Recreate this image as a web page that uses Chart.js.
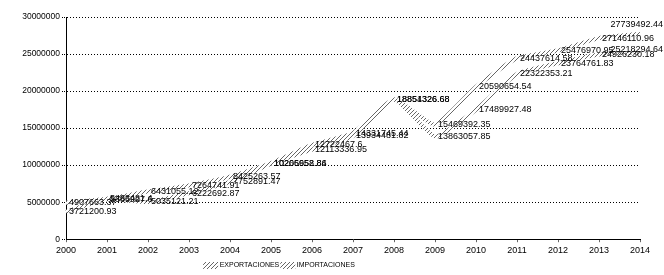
<!DOCTYPE html>
<html>
<head>
<meta charset="utf-8">
<script src="https://cdn.jsdelivr.net/npm/chart.js@4.4.1/dist/chart.umd.min.js"></script>
<style>
  html, body { margin: 0; padding: 0; background: #fff; }
  #wrap { width: 664px; height: 275px; }
</style>
</head>
<body>
<div id="wrap"><canvas id="c" width="664" height="275"></canvas></div>
<script>
const years = ['2000','2001','2002','2003','2004','2005','2006','2007','2008','2009','2010','2011','2012','2013','2014'];
const exportaciones = [4907663.37, 5463481.4, 6431055.12, 7264741.91, 8425263.57, 10266658.84, 12722467.6, 14331745.44,
  18854326.68, 15469392.35, 20590654.54, 24437614.58, 25476970.95, 27146110.96, 27739492.44];
const importaciones = [3721200.93, 5385927.6, 5035121.21, 6222692.87, 7752891.47, 10205952.86, 12113336.95, 13934481.82,
  18851326.68, 13863057.85, 17489927.48, 22322353.21, 23764761.83, 24926230.18, 25218294.64];
const yTicks = [0, 5000000, 10000000, 15000000, 20000000, 25000000, 30000000];

const FONT = '"Liberation Sans", Arial, sans-serif';
const NARROW = '"Liberation Sans Narrow", "Arial Narrow", "Liberation Sans", sans-serif';

// hatched stroke, looks like the printed band
function hatch() {
  const c = document.createElement('canvas');
  c.width = 4; c.height = 4;
  const g = c.getContext('2d');
  g.fillStyle = '#fff'; g.fillRect(0, 0, 4, 4);
  g.strokeStyle = '#666'; g.lineWidth = 1;
  g.beginPath(); g.moveTo(0, 4); g.lineTo(4, 0); g.stroke();
  return g.createPattern(c, 'repeat');
}

const valueLabels = {
  id: 'valueLabels',
  afterDatasetsDraw(chart) {
    const ctx = chart.ctx;
    ctx.save();
    ctx.font = '9px ' + FONT;
    ctx.fillStyle = '#000';
    ctx.textBaseline = 'middle';
    chart.data.datasets.forEach((ds, i) => {
      chart.getDatasetMeta(i).data.forEach((pt, j) => {
        const txt = String(ds.data[j]);
        if (j === ds.data.length - 1) {
          ctx.textAlign = 'right';
          ctx.fillText(txt, chart.width - 1, pt.y - (i === 0 ? 9 : 3));
        } else {
          ctx.textAlign = 'left';
          ctx.fillText(txt, pt.x + 3, pt.y);
        }
      });
    });
    ctx.restore();
  }
};

// legend sits left of centre in the original
const legendShift = {
  id: 'legendShift',
  afterLayout(chart) { chart.legend.left -= 40; chart.legend.right -= 40; }
};

const pat = hatch();
const dots = [1, 2];

new Chart(document.getElementById('c'), {
  type: 'line',
  data: {
    labels: years,
    datasets: [
      { label: 'EXPORTACIONES', data: exportaciones, borderColor: pat, backgroundColor: pat, borderWidth: 4, pointRadius: 0, tension: 0.15 },
      { label: 'IMPORTACIONES', data: importaciones, borderColor: pat, backgroundColor: pat, borderWidth: 4, pointRadius: 0, tension: 0.15 }
    ]
  },
  options: {
    responsive: false, animation: false,
    layout: { padding: { left: 0, right: 24, top: 17, bottom: -4 } },
    plugins: {
      tooltip: { enabled: false },
      legend: {
        position: 'bottom',
        labels: { font: { size: 7, family: NARROW }, color: '#000', boxWidth: 11, boxHeight: 3, padding: 3 }
      }
    },
    scales: {
      x: {
        offset: false,
        grid: { display: true, drawOnChartArea: false, drawTicks: true, tickLength: 3, color: '#666' },
        border: { display: true, color: '#000', dash: dots },
        ticks: { font: { size: 9, family: FONT }, color: '#000', maxRotation: 0, autoSkip: false, padding: 3 }
      },
      y: {
        min: 0, max: 30000000,
        afterFit: (s) => { s.width = 66; },
        afterBuildTicks: (s) => { s.ticks = yTicks.map(v => ({ value: v })); },
        grid: { color: '#000', lineWidth: 1, tickLength: 4, borderDash: dots, dash: dots, tickBorderDash: [1, 1] },
        border: { display: true, color: '#000', dash: dots },
        ticks: { font: { size: 8.5, family: FONT }, color: '#000', padding: 2, callback: (v) => String(v) }
      }
    }
  },
  plugins: [valueLabels, legendShift]
});
</script>
</body>
</html>
